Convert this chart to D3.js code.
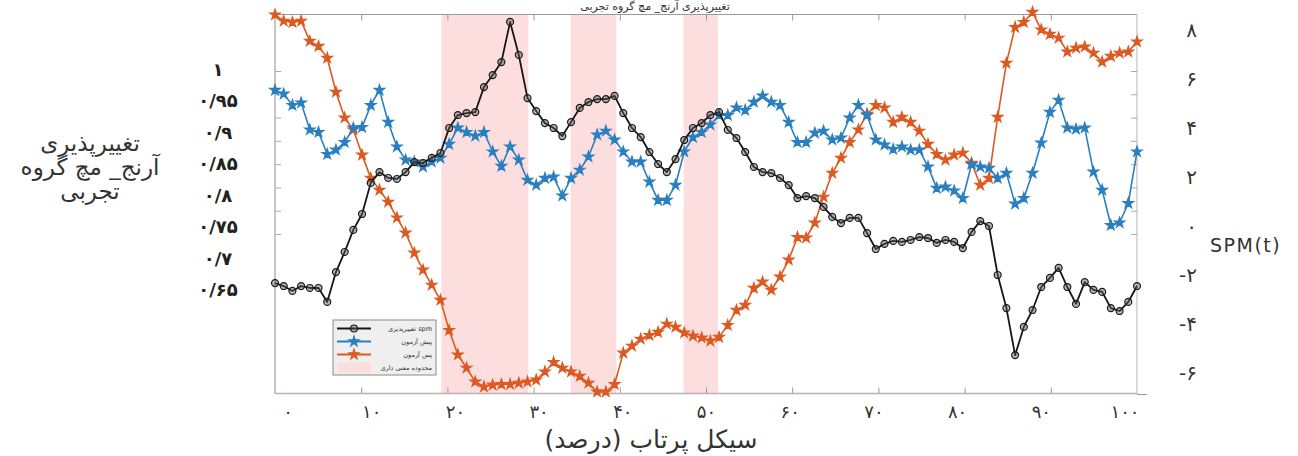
<!DOCTYPE html>
<html>
<head>
<meta charset="utf-8">
<script src="https://cdn.jsdelivr.net/npm/d3@7"></script>
<style>
  html, body { margin: 0; padding: 0; background: #fff; }
  svg { display: block; }
  text { font-family: "DejaVu Sans", "Noto Sans", sans-serif; }
</style>
</head>
<body>
<svg id="chart" width="1298" height="456"></svg>
<script>
// ---------- DATA ----------
// SPM variability (black, right axis SPM(t)), 100 samples over the cycle
const spmVar = [-2.33,-2.45,-2.65,-2.45,-2.53,-2.53,-3.10,-1.88,-1.06,-0.16,
  0.49,1.76,2.20,1.96,1.92,2.20,2.61,2.57,2.78,2.98,
  4.00,4.53,4.61,4.65,5.67,6.16,6.69,8.33,6.98,5.22,
  4.69,4.20,4.00,3.67,4.24,4.82,5.06,5.18,5.18,5.31,
  4.61,4.00,3.63,3.02,2.53,2.20,2.73,3.51,4.00,4.20,
  4.53,4.65,3.92,3.59,3.02,2.41,2.20,2.16,1.96,1.67,
  1.14,1.22,1.14,0.78,0.37,0.12,0.33,0.33,-0.29,-0.94,
  -0.73,-0.61,-0.65,-0.57,-0.45,-0.49,-0.69,-0.57,-0.65,-0.90,
  -0.24,0.20,0.00,-2.00,-3.35,-5.27,-4.12,-3.43,-2.49,-2.12,
  -1.71,-2.49,-3.18,-2.29,-2.61,-2.69,-3.35,-3.47,-3.10,-2.45];
// Pre-test (blue, left axis)
const preTest = [0.968,0.962,0.944,0.948,0.905,0.901,0.866,0.873,0.885,0.908,
  0.909,0.944,0.968,0.917,0.878,0.857,0.854,0.846,0.854,0.860,
  0.882,0.908,0.901,0.895,0.901,0.870,0.847,0.878,0.857,0.825,
  0.817,0.828,0.830,0.800,0.828,0.841,0.862,0.897,0.903,0.889,
  0.870,0.854,0.854,0.822,0.793,0.793,0.817,0.870,0.893,0.901,
  0.913,0.928,0.928,0.940,0.936,0.949,0.959,0.949,0.944,0.917,
  0.885,0.885,0.900,0.903,0.889,0.892,0.924,0.944,0.928,0.889,
  0.881,0.874,0.878,0.873,0.873,0.846,0.812,0.814,0.808,0.796,
  0.850,0.846,0.844,0.828,0.836,0.787,0.796,0.836,0.884,0.933,
  0.952,0.908,0.906,0.908,0.838,0.809,0.753,0.757,0.788,0.870];
// Post-test (orange, left axis)
const postTest = [1.088,1.078,1.076,1.078,1.046,1.038,1.019,0.965,0.924,0.905,
  0.865,0.828,0.809,0.790,0.765,0.741,0.709,0.682,0.658,0.634,
  0.586,0.547,0.526,0.504,0.496,0.499,0.500,0.500,0.502,0.504,
  0.507,0.520,0.535,0.526,0.520,0.513,0.502,0.488,0.488,0.500,
  0.550,0.561,0.572,0.578,0.583,0.596,0.591,0.582,0.577,0.574,
  0.569,0.575,0.594,0.618,0.626,0.653,0.663,0.650,0.671,0.698,
  0.734,0.733,0.757,0.798,0.836,0.860,0.885,0.905,0.930,0.944,
  0.940,0.917,0.925,0.917,0.903,0.882,0.866,0.857,0.865,0.868,
  0.852,0.817,0.828,0.925,1.011,1.068,1.076,1.092,1.064,1.057,
  1.051,1.029,1.035,1.037,1.027,1.013,1.022,1.027,1.029,1.045];
// Significant regions (percent of cycle)
const sigRegions = [[19.3, 29.4], [34.3, 39.6], [47.4, 51.4]];
// Tick labels
const xTickValues = [0,10,20,30,40,50,60,70,80,90,100];
const xTickLabels = ["۰","۱۰","۲۰","۳۰","۴۰","۵۰","۶۰","۷۰","۸۰","۹۰","۱۰۰"];
const leftTickValues = [1,0.95,0.9,0.85,0.8,0.75,0.7,0.65];
const leftTickLabels = ["۱","۰/۹۵","۰/۹","۰/۸۵","۰/۸","۰/۷۵","۰/۷","۰/۶۵"];
const rightTickValues = [8,6,4,2,0,-2,-4,-6];
const rightTickLabels = ["۸","۶","۴","۲","۰","-۲","-۴","-۶"];
const frameTickSteps = [0,1,2,3,4,5,6,7];
const legendLabels = ["تغییرپذیری spm","پیش آزمون","پس آزمون","محدوده معنی داری"];
const titleText = "تغییرپذیری آرنج_ مچ گروه تجربی";
const yTitleLines = ["تغییرپذیری","آرنج_ مچ گروه","تجربی"];
const xTitle = "سیکل پرتاب (درصد)";
const rightTitle = "SPM(t)";

// ---------- LAYOUT ----------
const svg = d3.select("#chart");
const F = {left: 275, right: 1137, top: 14.5, bottom: 393.5};
const COL = {black: "#161616", blue: "#2a7fc1", orange: "#dc5a22", pink: "#fcdede", frame: "#b9b2b0"};

const x = d3.scaleLinear().domain([0, 100]).range([F.left, F.right]);
const idx = d3.scaleLinear().domain([0, spmVar.length - 1]).range([F.left, F.right]);
const yL = d3.scaleLinear().domain([0.65, 1]).range([290, 70]);
const yR = d3.scaleLinear().domain([-6, 8]).range([373, 30]);
const xLab = d3.scaleLinear().domain([0, 100]).range([288, 1125]);
const yT = d3.scaleLinear().domain([0, 7]).range([71, 234]);

// Title (sits just above the frame)
svg.append("text").attr("x", 655).attr("y", 10).attr("text-anchor", "middle")
  .attr("direction", "rtl").attr("font-size", 11).attr("fill", "#333").text(titleText);

// Frame background
svg.append("rect").attr("x", F.left).attr("y", F.top)
  .attr("width", F.right - F.left).attr("height", F.bottom - F.top).attr("fill", "#fff");

// Shaded significant regions
svg.append("g").selectAll("rect").data(sigRegions).join("rect")
  .attr("x", d => x(d[0])).attr("width", d => x(d[1]) - x(d[0]))
  .attr("y", F.top + 0.5).attr("height", F.bottom - F.top - 1)
  .attr("fill", COL.pink);

// Frame ticks
const innerX = xTickValues.filter(v => v > 0 && v < 100);
svg.append("g").attr("transform", `translate(0,${F.bottom})`)
  .call(d3.axisBottom(x).tickValues(innerX).tickSize(-6).tickFormat(""))
  .call(g => { g.select(".domain").remove(); g.selectAll("line").attr("stroke", "#999"); });
svg.append("g").attr("transform", `translate(0,${F.top})`)
  .call(d3.axisTop(x).tickValues(innerX).tickSize(-6).tickFormat(""))
  .call(g => { g.select(".domain").remove(); g.selectAll("line").attr("stroke", "#999"); });
svg.append("g").attr("transform", `translate(${F.left},0)`)
  .call(d3.axisLeft(yT).tickValues(frameTickSteps).tickSize(-6).tickFormat(""))
  .call(g => { g.select(".domain").remove(); g.selectAll("line").attr("stroke", "#aaa"); });
svg.append("g").attr("transform", `translate(${F.right},0)`)
  .call(d3.axisRight(yT).tickValues(frameTickSteps).tickSize(-6).tickFormat(""))
  .call(g => { g.select(".domain").remove(); g.selectAll("line").attr("stroke", "#aaa"); });

// Frame border
svg.append("line").attr("x1", F.left).attr("x2", F.right).attr("y1", F.top).attr("y2", F.top).attr("stroke", "#9a9a9a");
svg.append("line").attr("x1", F.right).attr("x2", F.right).attr("y1", F.top).attr("y2", F.bottom).attr("stroke", "#b5b5b5");
svg.append("line").attr("x1", F.left).attr("x2", F.right).attr("y1", F.bottom).attr("y2", F.bottom).attr("stroke", COL.frame).attr("stroke-width", 1.5);
svg.append("line").attr("x1", F.left).attr("x2", F.left).attr("y1", F.top).attr("y2", F.bottom).attr("stroke", COL.frame).attr("stroke-width", 1.5);
svg.append("line").attr("x1", F.right).attr("x2", F.right + 10).attr("y1", F.bottom + 1).attr("y2", F.bottom + 1).attr("stroke", "#999");

// ---------- SERIES ----------
const star = d3.symbol().type(d3.symbolStar).size(34);
const circ = d3.symbol().type(d3.symbolCircle).size(38);

function drawSeries(values, yScale, color, sym, width, markerFill, markerStroke) {
  const g = svg.append("g");
  g.append("path").datum(values)
    .attr("fill", "none").attr("stroke", color).attr("stroke-width", width)
    .attr("stroke-linejoin", "round")
    .attr("d", d3.line().x((d, i) => idx(i)).y(d => yScale(d)));
  g.selectAll("path.m").data(values).join("path").attr("class", "m")
    .attr("transform", (d, i) => `translate(${idx(i)},${yScale(d)})`)
    .attr("d", sym)
    .attr("fill", markerFill).attr("stroke", markerStroke).attr("stroke-width", 1.2);
}
drawSeries(postTest, yL, COL.orange, star, 1.6, COL.orange, COL.orange);
drawSeries(preTest, yL, COL.blue, star, 1.6, COL.blue, COL.blue);
drawSeries(spmVar, yR, COL.black, circ, 1.8, "rgba(90,90,90,0.45)", "#1a1a1a");

// ---------- LEGEND ----------
const LG = {x: 333, y: 320, w: 103, h: 55};
const lg = svg.append("g");
lg.append("rect").attr("x", LG.x).attr("y", LG.y).attr("width", LG.w).attr("height", LG.h)
  .attr("fill", "#efefef").attr("stroke", "#8a8a8a").attr("stroke-width", 1);
const legendRow = d3.scaleLinear().domain([0, 3]).range([LG.y + 8.5, LG.y + 47.5]);
const legendItems = [
  {color: COL.black, sym: circ, fill: "rgba(90,90,90,0.45)", stroke: "#1a1a1a"},
  {color: COL.blue, sym: star, fill: COL.blue, stroke: COL.blue},
  {color: COL.orange, sym: star, fill: COL.orange, stroke: COL.orange},
  {patch: true}
];
legendItems.forEach((it, i) => {
  const yy = legendRow(i);
  if (it.patch) {
    lg.append("rect").attr("x", LG.x + 4).attr("y", yy - 5).attr("width", 34).attr("height", 10).attr("fill", COL.pink);
  } else {
    lg.append("line").attr("x1", LG.x + 4).attr("x2", LG.x + 38).attr("y1", yy).attr("y2", yy)
      .attr("stroke", it.color).attr("stroke-width", 1.8);
    lg.append("path").attr("transform", `translate(${LG.x + 21},${yy})`).attr("d", it.sym)
      .attr("fill", it.fill).attr("stroke", it.stroke).attr("stroke-width", 1.1);
  }
  lg.append("text").attr("x", LG.x + LG.w - 4).attr("y", yy + 2.5).attr("text-anchor", "end")
    .attr("font-size", 6.5).attr("fill", "#333").text(legendLabels[i]);
});

// ---------- AXIS LABELS ----------
svg.append("g").selectAll("text").data(xTickValues).join("text")
  .attr("x", d => xLab(d)).attr("y", 418).attr("text-anchor", "middle")
  .attr("font-size", 18).attr("letter-spacing", 3).attr("fill", "#333")
  .text((d, i) => xTickLabels[i]);

svg.append("g").selectAll("text").data(leftTickValues).join("text")
  .attr("x", 218).attr("y", d => yL(d) + 6).attr("text-anchor", "middle")
  .attr("font-size", 18).attr("font-weight", "bold").attr("letter-spacing", 1.5).attr("fill", "#222")
  .text((d, i) => leftTickLabels[i]);

svg.append("g").selectAll("text").data(rightTickValues).join("text")
  .attr("x", 1197).attr("y", d => yR(d) + 7).attr("text-anchor", "end")
  .attr("font-size", 20).attr("letter-spacing", 1).attr("fill", "#333")
  .text((d, i) => rightTickLabels[i]);

svg.append("text").attr("x", 1210).attr("y", 252).attr("font-family", "'Open Sans', sans-serif")
  .attr("font-size", 19).attr("letter-spacing", 1.5).attr("fill", "#333").text(rightTitle);

svg.append("g").selectAll("text").data(yTitleLines).join("text")
  .attr("x", 90).attr("y", (d, i) => 151 + i * 24).attr("text-anchor", "middle")
  .attr("direction", "rtl").attr("font-size", 23).attr("fill", "#333")
  .text(d => d);

svg.append("text").attr("x", 651).attr("y", 448).attr("text-anchor", "middle")
  .attr("direction", "rtl").attr("font-size", 25).attr("fill", "#333").text(xTitle);
</script>
</body>
</html>
